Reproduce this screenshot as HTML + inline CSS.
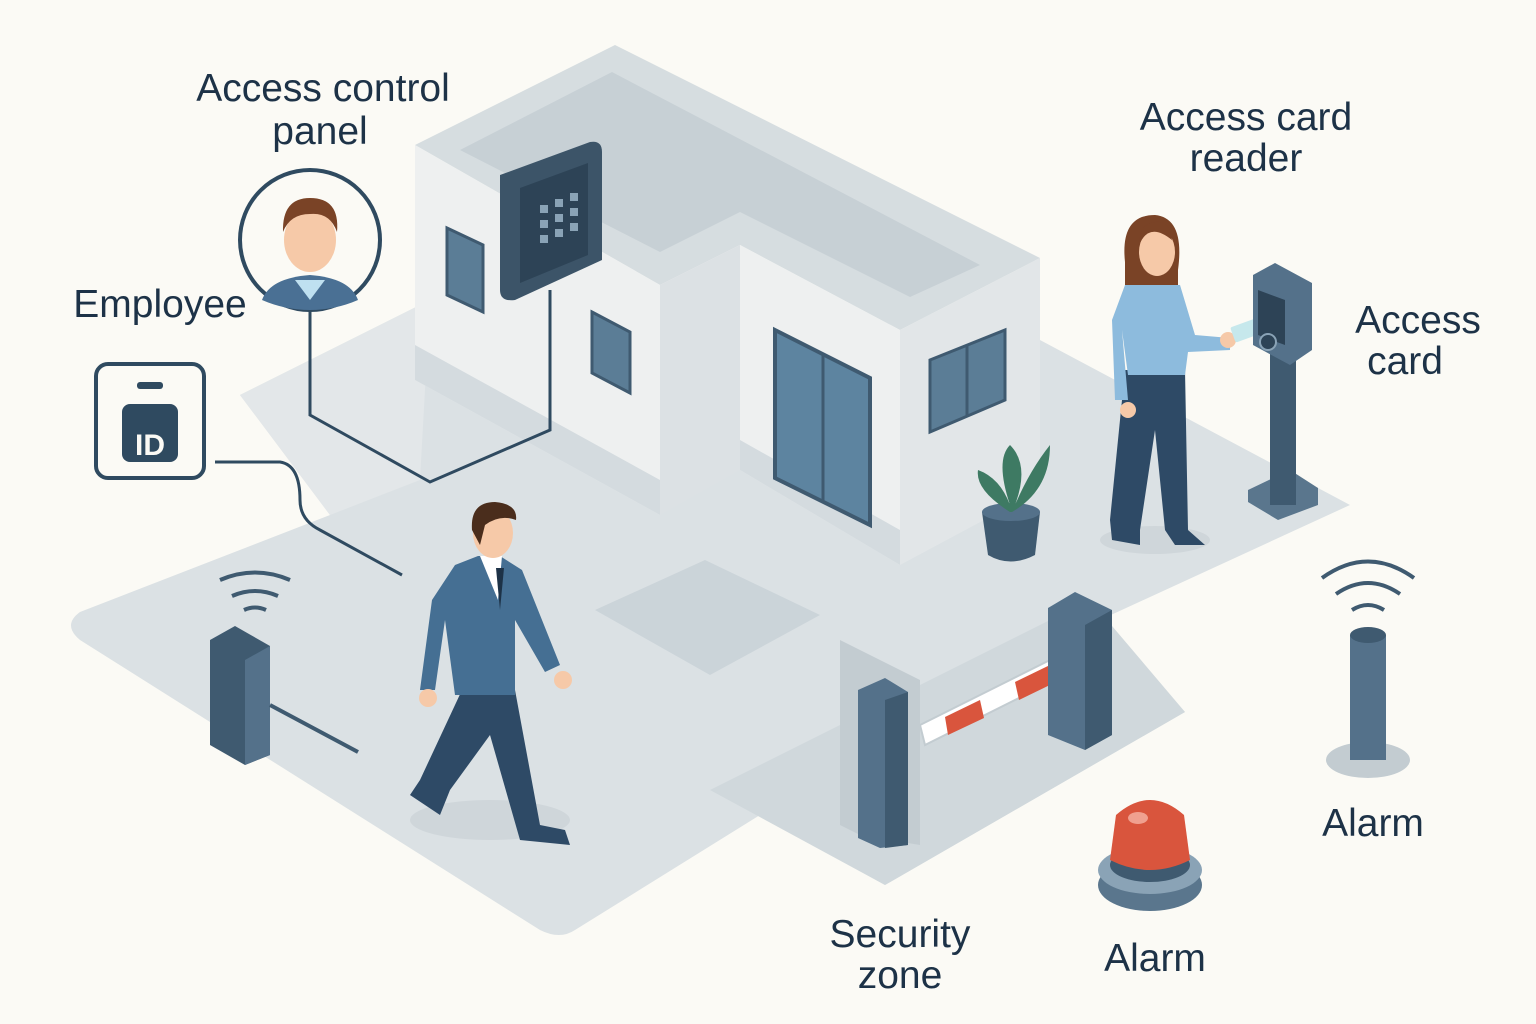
<!DOCTYPE html>
<html><head><meta charset="utf-8"><style>
html,body{margin:0;padding:0;background:#fbfaf5;}
svg{display:block}
text{font-family:"Liberation Sans","DejaVu Sans",sans-serif;fill:#1d3247;font-size:39px;text-anchor:middle}
</style></head><body>
<svg width="1536" height="1024" viewBox="0 0 1536 1024" xmlns="http://www.w3.org/2000/svg">
<rect width="1536" height="1024" fill="#fbfaf5"/>
<!-- ground -->
<path d="M80,612 L330,515 L240,395 L430,300 L1040,340 L1350,505 L1100,620 L1185,712 L885,885 L760,815 L575,930 Q560,940 540,930 L80,640 Q62,625 80,612Z" fill="#dbe1e4"/>
<path d="M710,790 L1090,600 L1185,712 L885,885Z" fill="#d0d8dc"/>
<path d="M595,610 L705,560 L820,615 L710,675Z" fill="#cbd4d9"/>
<path d="M240,395 L430,300 L420,480 L330,515Z" fill="#e3e7e9"/>
<!-- building -->
<path d="M415,145 L615,45 L1040,258 L900,330 L740,245 L660,285Z" fill="#d6dde0"/>
<path d="M460,150 L612,72 L980,265 L910,297 L740,212 L660,252Z" fill="#c7d0d5"/>
<path d="M415,145 L660,285 L660,515 L415,380Z" fill="#eef0f0"/>
<path d="M415,345 L660,480 L660,515 L415,380Z" fill="#d4dbdf"/>
<path d="M660,285 L740,245 L740,470 L660,515Z" fill="#dce1e4"/>
<path d="M740,245 L900,330 L900,565 L740,470Z" fill="#eef0f0"/>
<path d="M740,440 L900,530 L900,565 L740,470Z" fill="#d4dbdf"/>
<path d="M900,330 L1040,258 L1040,490 L900,565Z" fill="#e2e6e8"/>
<!-- windows/door -->
<path d="M447,228 L483,245 L483,312 L447,295Z" fill="#5b7d96" stroke="#3f5a70" stroke-width="3"/>
<path d="M592,312 L630,332 L630,393 L592,373Z" fill="#5b7d96" stroke="#3f5a70" stroke-width="3"/>
<path d="M775,330 L870,378 L870,525 L775,478Z" fill="#5d84a0" stroke="#3f5a70" stroke-width="4"/>
<line x1="823" y1="354" x2="823" y2="502" stroke="#3f5a70" stroke-width="3"/>
<path d="M930,360 L1005,330 L1005,400 L930,432Z" fill="#5b7d96" stroke="#3f5a70" stroke-width="3"/>
<line x1="967" y1="345" x2="967" y2="416" stroke="#3f5a70" stroke-width="3"/>
<!-- panel -->
<path d="M500,175 L590,142 Q602,140 602,152 L602,260 L515,300 Q500,302 500,290Z" fill="#3c5468"/>
<path d="M520,188 L588,163 L588,255 L520,283Z" fill="#2d4356"/>
<g fill="#8aa3b6"><rect x="540" y="205" width="8" height="8"/><rect x="555" y="199" width="8" height="8"/><rect x="570" y="193" width="8" height="8"/><rect x="540" y="220" width="8" height="8"/><rect x="555" y="214" width="8" height="8"/><rect x="570" y="208" width="8" height="8"/><rect x="540" y="235" width="8" height="8"/><rect x="555" y="229" width="8" height="8"/><rect x="570" y="223" width="8" height="8"/></g>
<path d="M550,290 L550,430 L430,482 L310,415 L310,310" fill="none" stroke="#2f4a60" stroke-width="3"/>
<!-- employee circle -->
<circle cx="310" cy="240" r="70" fill="#fbfaf5" stroke="#2f4a60" stroke-width="4"/>
<path d="M262,300 Q270,278 310,275 Q350,278 358,300 Q335,310 310,310 Q285,310 262,300Z" fill="#4a7094"/>
<path d="M295,280 L310,300 L325,280Z" fill="#bfe0f0"/>
<ellipse cx="310" cy="240" rx="26" ry="32" fill="#f6c9a8"/>
<path d="M283,232 Q282,198 310,198 Q340,198 337,232 Q330,212 310,214 Q290,214 283,232Z" fill="#7a4326"/>
<!-- ID -->
<rect x="96" y="364" width="108" height="114" rx="12" fill="#fbfaf5" stroke="#2f4a60" stroke-width="4"/>
<rect x="137" y="382" width="26" height="7" rx="3" fill="#2f4a60"/>
<rect x="122" y="404" width="56" height="58" rx="8" fill="#2f4a60"/>
<text x="150" y="455" style="fill:#fbfaf5;font-size:30px;font-weight:bold">ID</text>
<path d="M215,462 L280,462 Q300,465 300,500 Q300,520 320,530 L402,575" fill="none" stroke="#2f4a60" stroke-width="3"/>
<!-- left post -->
<path d="M220,580 Q255,565 290,580" fill="none" stroke="#3f5a70" stroke-width="4"/>
<path d="M232,596 Q255,586 278,596" fill="none" stroke="#3f5a70" stroke-width="4"/>
<path d="M244,610 Q255,605 266,610" fill="none" stroke="#3f5a70" stroke-width="4"/>
<path d="M210,640 L235,626 L270,646 L270,755 L245,765 L210,745Z" fill="#3f5a70"/>
<path d="M245,660 L270,646 L270,755 L245,765Z" fill="#54718a"/>
<line x1="270" y1="705" x2="358" y2="752" stroke="#3f5a70" stroke-width="4"/>
<!-- walking man -->
<ellipse cx="490" cy="820" rx="80" ry="20" fill="#cfd6da"/>
<path d="M462,690 L420,780 L410,795 L440,815 L450,790 L490,735 L520,840 L570,845 L565,830 L540,825 L515,690Z" fill="#2e4a66"/>
<path d="M455,565 L478,556 L500,556 L522,570 L560,665 L545,672 L515,620 L515,695 L455,695 L445,620 L435,690 L420,690 L432,600Z" fill="#456f93"/>
<path d="M480,556 L498,600 L502,556Z" fill="#fff"/>
<path d="M496,568 L500,610 L504,568Z" fill="#1d3247"/>
<ellipse cx="493" cy="533" rx="20" ry="25" fill="#f6c9a8"/>
<path d="M472,530 Q470,502 495,502 Q518,504 516,520 Q500,514 485,525 L480,545Z" fill="#4a2d1c"/>
<circle cx="428" cy="698" r="9" fill="#f6c9a8"/><circle cx="563" cy="680" r="9" fill="#f6c9a8"/>
<!-- woman -->
<ellipse cx="1155" cy="540" rx="55" ry="14" fill="#cfd6da"/>
<path d="M1125,370 L1110,520 L1112,540 L1140,545 L1140,530 L1155,430 L1165,530 L1175,545 L1205,545 L1188,530 L1185,370Z" fill="#2e4a66"/>
<path d="M1125,285 L1180,285 L1195,335 L1230,338 L1230,350 L1188,352 L1185,375 L1128,375 L1122,330 L1128,400 L1115,400 L1112,320Z" fill="#8dbbdd"/>
<path d="M1125,262 Q1120,215 1155,215 Q1185,218 1178,270 L1178,285 L1125,285Z" fill="#7a4326"/>
<ellipse cx="1157" cy="252" rx="18" ry="24" fill="#f6c9a8"/>
<path d="M1140,243 Q1150,222 1172,240 Q1170,220 1155,222 Q1138,225 1140,243Z" fill="#7a4326"/>
<circle cx="1128" cy="410" r="8" fill="#f6c9a8"/><circle cx="1228" cy="340" r="8" fill="#f6c9a8"/>
<rect x="1232" y="322" width="30" height="16" rx="2" fill="#c6e8ec" transform="rotate(-20 1247 330)"/>
<!-- card reader -->
<path d="M1248,490 L1290,470 L1318,488 L1318,505 L1278,520 L1248,502Z" fill="#5a768d"/>
<rect x="1270" y="340" width="26" height="165" fill="#3f5a70"/>
<path d="M1253,275 L1275,263 L1312,283 L1312,350 L1290,365 L1253,345Z" fill="#54718a"/>
<path d="M1258,290 L1285,300 L1285,345 L1258,335Z" fill="#2d4356"/>
<circle cx="1268" cy="342" r="8" fill="#2d4356" stroke="#8aa3b6" stroke-width="2"/>
<!-- plant -->
<path d="M982,512 L1040,512 L1035,555 Q1010,568 988,555Z" fill="#3f5a70"/>
<ellipse cx="1011" cy="512" rx="29" ry="9" fill="#54718a"/>
<path d="M1010,512 Q975,490 978,470 Q1000,478 1010,505 Q995,460 1010,445 Q1030,465 1015,505 Q1030,470 1050,445 Q1050,490 1012,512Z" fill="#3e7a63"/>
<!-- barrier -->
<path d="M840,640 L920,680 L920,845 L860,835 L840,825Z" fill="#c3ccd1"/>
<path d="M858,690 L885,678 L908,692 L908,845 L880,848 L858,838Z" fill="#54718a"/>
<path d="M885,700 L908,692 L908,845 L885,848Z" fill="#3f5a70"/>
<path d="M920,725 L1070,650 L1075,670 L925,745Z" fill="#fff" stroke="#c3ccd1" stroke-width="2"/>
<path d="M945,717 L980,700 L984,718 L948,735Z" fill="#d9553d"/>
<path d="M1015,682 L1050,665 L1054,683 L1019,700Z" fill="#d9553d"/>
<path d="M1048,608 L1075,592 L1112,610 L1112,735 L1085,750 L1048,735Z" fill="#54718a"/>
<path d="M1085,625 L1112,610 L1112,735 L1085,750Z" fill="#3f5a70"/>
<!-- right alarm post -->
<path d="M1322,578 Q1368,545 1414,578" fill="none" stroke="#3f5a70" stroke-width="4"/>
<path d="M1336,594 Q1368,572 1400,594" fill="none" stroke="#3f5a70" stroke-width="4"/>
<path d="M1352,610 Q1368,600 1384,610" fill="none" stroke="#3f5a70" stroke-width="4"/>
<ellipse cx="1368" cy="760" rx="42" ry="18" fill="#c3ccd1"/>
<rect x="1350" y="635" width="36" height="125" fill="#54718a"/>
<ellipse cx="1368" cy="635" rx="18" ry="8" fill="#3f5a70"/>
<!-- siren -->
<ellipse cx="1150" cy="885" rx="52" ry="26" fill="#5a768d"/>
<ellipse cx="1150" cy="870" rx="52" ry="24" fill="#8aa3b6"/>
<ellipse cx="1150" cy="865" rx="40" ry="17" fill="#3f5a70"/>
<path d="M1110,860 L1116,815 Q1150,785 1184,815 L1190,860 Q1150,880 1110,860Z" fill="#d9553d"/>
<ellipse cx="1138" cy="818" rx="10" ry="6" fill="#f0a08f"/>
<!-- labels -->
<text x="323" y="101">Access control</text>
<text x="320" y="144">panel</text>
<text x="160" y="317">Employee</text>
<text x="1246" y="130">Access card</text>
<text x="1246" y="171">reader</text>
<text x="1418" y="333">Access</text>
<text x="1405" y="374">card</text>
<text x="1373" y="836">Alarm</text>
<text x="900" y="947">Security</text>
<text x="900" y="988">zone</text>
<text x="1155" y="971">Alarm</text>
</svg>
</body></html>
